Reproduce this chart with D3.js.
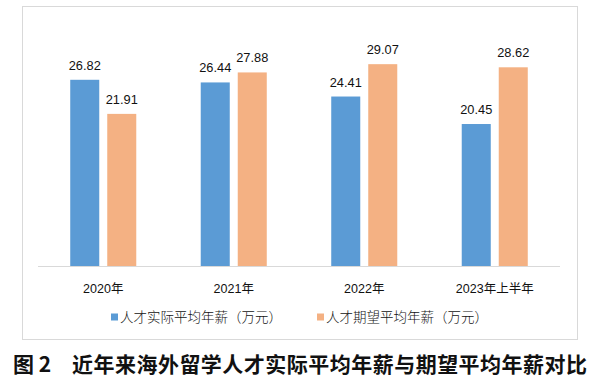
<!DOCTYPE html>
<html>
<head>
<meta charset="utf-8">
<script src="https://cdn.jsdelivr.net/npm/d3@7"></script>
<style>
  body { margin: 0; background: #fff; }
  svg { display: block; }
</style>
</head>
<body>
<div id="chart-container"></div>
<script>
const categories = ["2020年", "2021年", "2022年", "2023年上半年"];
const seriesNames = ["人才实际平均年薪（万元）", "人才期望平均年薪（万元）"];
const actualSalary = [26.82, 26.44, 24.41, 20.45];
const expectedSalary = [21.91, 27.88, 29.07, 28.62];
const colors = ["#5B9BD5", "#F4B183"];

const W = 594, H = 386;
const plot = { left: 38, right: 560, top: 23, bottom: 266 };

const svg = d3.select("#chart-container")
  .append("svg")
    .attr("width", W)
    .attr("height", H);

// chart frame
svg.append("rect")
  .attr("x", 22.5)
  .attr("y", 6.5)
  .attr("width", 555)
  .attr("height", 333)
  .attr("fill", "#fff")
  .attr("stroke", "#D9D9D9")
  .attr("stroke-width", 1);

const x0 = d3.scaleBand()
  .domain(categories)
  .range([plot.left, plot.right])
  .paddingInner(0.494)
  .paddingOuter(0.247);

const x1 = d3.scaleBand()
  .domain([0, 1])
  .range([0, x0.bandwidth()])
  .paddingInner(0.216);

const y = d3.scaleLinear()
  .domain([0, 35])
  .range([plot.bottom, plot.top]);

const rows = categories.map((c, i) => ({
  cat: c,
  vals: [actualSalary[i], expectedSalary[i]]
}));

const groups = svg.selectAll(".grp")
  .data(rows)
  .enter().append("g")
    .attr("class", "grp")
    .attr("transform", d => `translate(${x0(d.cat)},0)`);

groups.selectAll("rect")
  .data(d => d.vals.map((v, k) => ({ v, k })))
  .enter().append("rect")
    .attr("x", d => x1(d.k))
    .attr("y", d => y(d.v))
    .attr("width", x1.bandwidth())
    .attr("height", d => y(0) - y(d.v))
    .attr("fill", d => colors[d.k]);

groups.selectAll(".val")
  .data(d => d.vals.map((v, k) => ({ v, k })))
  .enter().append("text")
    .attr("class", "val")
    .attr("x", d => x1(d.k) + x1.bandwidth() / 2)
    .attr("y", d => y(d.v) - 10)
    .attr("text-anchor", "middle")
    .style("font-family", "'Liberation Sans', Arial, sans-serif")
    .style("font-size", "12.8px")
    .style("fill", "#111")
    .text(d => d.v.toFixed(2));

// x axis
const xAxis = svg.append("g")
  .attr("transform", `translate(0,${plot.bottom})`)
  .call(d3.axisBottom(x0).tickSize(0).tickPadding(18));
xAxis.select(".domain")
  .attr("stroke", "#D9D9D9")
  .attr("d", `M${plot.left},0.5H${plot.right}`);
xAxis.selectAll("text")
  .style("font-family", "'Liberation Sans', 'Noto Sans CJK SC', sans-serif")
  .style("font-size", "12.5px")
  .style("fill", "#111");

// legend
const legendX = [111, 317];
const legend = svg.selectAll(".leg")
  .data(seriesNames)
  .enter().append("g")
    .attr("class", "leg")
    .attr("transform", (d, i) => `translate(${legendX[i]},317)`);
legend.append("rect")
  .attr("x", 0)
  .attr("y", -3.5)
  .attr("width", 7)
  .attr("height", 7)
  .attr("fill", (d, i) => colors[i]);
legend.append("text")
  .attr("x", 9)
  .attr("y", 0)
  .attr("dy", "0.36em")
  .style("font-family", "'Noto Sans CJK SC', sans-serif")
  .style("font-weight", "300")
  .style("font-size", "13.5px")
  .style("fill", "#111")
  .text(d => d);

// caption
svg.append("text")
  .attr("x", 13)
  .attr("y", 372)
  .style("font-family", "'Noto Sans CJK SC', sans-serif")
  .style("font-weight", "bold")
  .style("font-size", "21px")
  .style("fill", "#111")
  .text("图 2");
svg.append("text")
  .attr("x", 72)
  .attr("y", 372)
  .attr("textLength", 515)
  .style("font-family", "'Noto Sans CJK SC', sans-serif")
  .style("font-weight", "bold")
  .style("font-size", "21px")
  .style("fill", "#111")
  .text("近年来海外留学人才实际平均年薪与期望平均年薪对比");
</script>
</body>
</html>
